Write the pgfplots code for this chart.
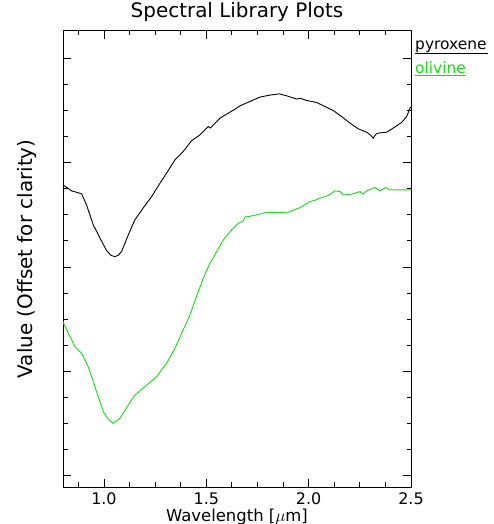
\documentclass[border=0pt]{standalone}
\usepackage{fontspec}
\setmainfont{DejaVu Sans}
\usepackage{pgfplots}
\pgfplotsset{compat=1.18}
\definecolor{olivgreen}{RGB}{30,215,30}
\begin{document}
\begin{tikzpicture}
\begin{axis}[
  scale only axis,
  width=348bp, height=456.3bp,
  xmin=0.8, xmax=2.5, ymin=-0.115, ymax=4.27,
  xtick={1,1.5,2,2.5},
  xticklabels={1.0,1.5,2.0,2.5},
  minor xtick={0.875,1.125,1.25,1.375,1.625,1.75,1.875,2.125,2.25,2.375},
  ytick={0,1,2,3,4},
  yticklabels={},
  minor ytick={0.25,0.5,0.75,1.25,1.5,1.75,2.25,2.5,2.75,3.25,3.5,3.75},
  tick align=inside,
  major tick length=8bp,
  minor tick length=4.5bp,
  tick style={black, line width=0.8bp},
  axis line style={line width=1bp},
  /pgf/number format/assume math mode=true,
  xticklabel style={font=\fontsize{16}{16}\selectfont, anchor=base, inner sep=0pt, yshift=-17.5bp},
  title={Spectral Library Plots},
  title style={font=\fontsize{20}{20}\selectfont, at={(axis description cs:0.5,1)}, anchor=base, yshift=7bp},
  xlabel={Wavelength [$\mu$m]},
  xlabel style={font=\fontsize{16.5}{16.5}\selectfont, inner sep=0pt, at={(axis description cs:0.5,0)}, anchor=base, yshift=-34bp},
  ylabel={Value (Offset for clarity)},
  ylabel style={font=\fontsize{20}{20}\selectfont, at={(axis description cs:-0.102,0.5)}, anchor=center},
  clip=false,
]
\addplot[black, line width=0.9bp] coordinates {
(0.800,2.788) (0.842,2.731) (0.870,2.715) (0.891,2.702) (0.915,2.596) (0.948,2.404)
(0.980,2.279) (1.013,2.157) (1.035,2.110) (1.054,2.099) (1.070,2.112) (1.086,2.147)
(1.119,2.308) (1.151,2.452) (1.192,2.567) (1.233,2.676) (1.274,2.805) (1.306,2.901)
(1.347,3.029) (1.387,3.109) (1.428,3.212) (1.469,3.269) (1.510,3.349) (1.520,3.335)
(1.567,3.430) (1.616,3.488) (1.640,3.515) (1.664,3.548) (1.713,3.589) (1.762,3.632)
(1.811,3.651) (1.856,3.663) (1.893,3.644) (1.941,3.613) (1.960,3.620) (1.990,3.599)
(2.039,3.580) (2.080,3.541) (2.120,3.503) (2.161,3.445) (2.202,3.382) (2.242,3.327)
(2.283,3.295) (2.300,3.270) (2.316,3.238) (2.328,3.275) (2.340,3.286) (2.381,3.295)
(2.413,3.334) (2.454,3.388) (2.479,3.445) (2.495,3.526) (2.500,3.538)
};
\addplot[olivgreen, line width=0.9bp] coordinates {
(0.800,1.471) (0.826,1.363) (0.858,1.234) (0.891,1.170) (0.923,1.041) (0.948,0.897)
(0.972,0.753) (0.997,0.609) (1.021,0.536) (1.045,0.497) (1.078,0.545) (1.119,0.673)
(1.151,0.769) (1.200,0.849) (1.257,0.945) (1.306,1.074) (1.347,1.218) (1.387,1.394)
(1.420,1.538) (1.445,1.678) (1.485,1.891) (1.518,2.036) (1.551,2.147) (1.583,2.260)
(1.616,2.339) (1.656,2.420) (1.680,2.440) (1.690,2.480) (1.705,2.484) (1.746,2.500)
(1.787,2.522) (1.844,2.522) (1.900,2.526) (1.958,2.570) (2.006,2.628) (2.030,2.640)
(2.055,2.661) (2.096,2.686) (2.128,2.731) (2.153,2.724) (2.169,2.692) (2.210,2.699)
(2.251,2.724) (2.265,2.700) (2.283,2.731) (2.324,2.763) (2.348,2.731) (2.378,2.763)
(2.397,2.740) (2.446,2.740) (2.495,2.740) (2.500,2.740)
};
\end{axis}
\node[anchor=base west, inner sep=0, font=\fontsize{15.5}{15.5}\selectfont] (pyr)
  at ([xshift=4bp, yshift=-18.6bp]current axis.north east) {pyroxene};
\draw[black, line width=0.9bp] ([yshift=-3.8bp]pyr.base west) -- ([yshift=-3.8bp, xshift=1bp]pyr.base east);
\node[anchor=base west, inner sep=0, text=olivgreen, font=\fontsize{15.5}{15.5}\selectfont] (oli)
  at ([xshift=4bp, yshift=-42.6bp]current axis.north east) {olivine};
\draw[olivgreen, line width=0.9bp] ([yshift=-2bp]oli.base west) -- ([yshift=-2bp]oli.base east);
\pgfresetboundingbox
\path ([xshift=-63bp, yshift=-37bp]current axis.south west) rectangle ([xshift=83bp, yshift=30.7bp]current axis.north east);
\end{tikzpicture}
\end{document}
